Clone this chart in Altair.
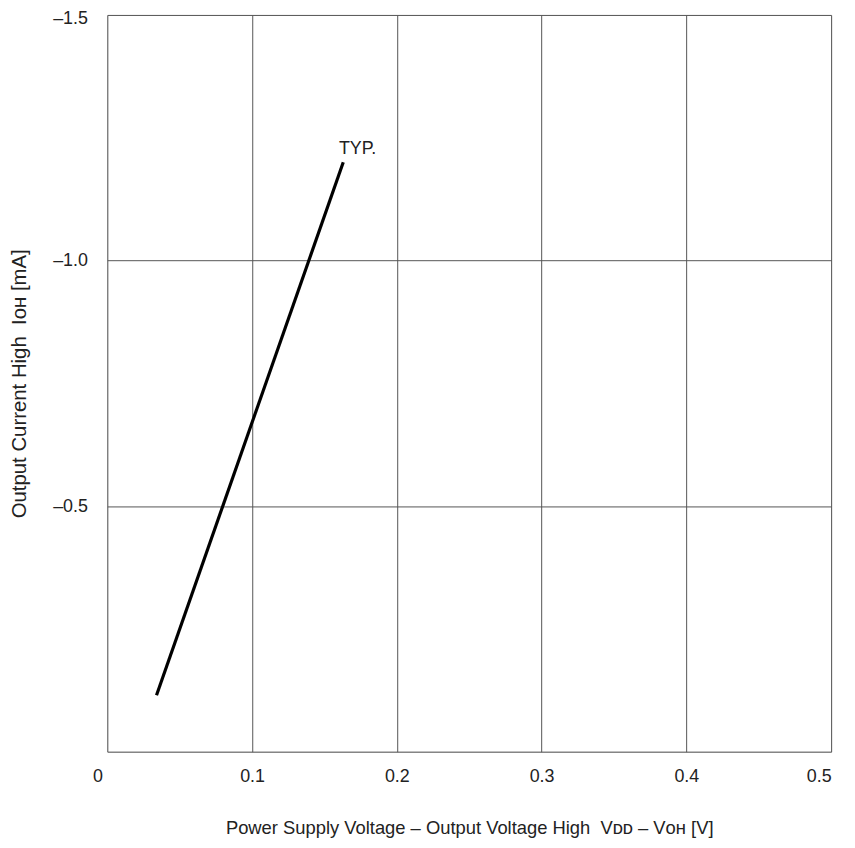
import altair as alt
import pandas as pd

# data
vdd_minus_voh = [0.034, 0.163]
ioh = [-0.115, -1.2]
x_ticks = [0, 0.1, 0.2, 0.3, 0.4, 0.5]
y_ticks = [-1.5, -1.0, -0.5, 0]
label_text = ["TYP."]
label_x = [0.160]
label_y = [-1.227]

df = pd.DataFrame({"x": vdd_minus_voh, "y": ioh})
lab = pd.DataFrame({"x": label_x, "y": label_y, "t": label_text})

FONT = "Liberation Sans"
TXT = "#222"
xscale = alt.Scale(domain=[0, 0.5], nice=False, zero=False)
yscale = alt.Scale(domain=[-1.5, 0], reverse=True, nice=False, zero=False)

xaxis = alt.Axis(
    values=x_ticks,
    labelExpr="datum.value == 0 ? '0' : format(datum.value, '.1f')",
    grid=True, gridColor="#555", gridWidth=1,
    domain=False, ticks=False,
    labelPadding=16, labelFontSize=18, labelFont=FONT, labelColor=TXT,
    labelOffset={"condition": {"test": "datum.value == 0", "value": -15}, "value": 0},
    title="Power Supply Voltage – Output Voltage High\u00a0\u00a0Vᴅᴅ – Vᴏʜ [V]",
    titleFont=FONT, titleFontSize=18.5, titleFontWeight="normal", titleColor=TXT,
    titlePadding=33,
)
yaxis = alt.Axis(
    values=y_ticks,
    labelExpr="datum.value == 0 ? '' : replace(format(datum.value, '.1f'), '−', '–')",
    grid=True, gridColor="#555", gridWidth=1,
    domain=False, ticks=False,
    labelPadding=20, labelFontSize=18, labelFont=FONT, labelColor=TXT,
    labelOffset={"condition": {"test": "datum.value == -1.5", "value": 4}, "value": 0},
    title="Output Current High\u00a0\u00a0Iᴏʜ [mA]",
    titleFont=FONT, titleFontSize=20.5, titleFontWeight="normal", titleColor=TXT,
    titlePadding=23,
)

line = alt.Chart(df).mark_line(color="black", strokeWidth=3.2).encode(
    x=alt.X("x:Q", scale=xscale, axis=xaxis),
    y=alt.Y("y:Q", scale=yscale, axis=yaxis),
)
text = alt.Chart(lab).mark_text(
    align="left", baseline="middle", font=FONT, fontSize=18, color=TXT
).encode(
    x=alt.X("x:Q", scale=xscale),
    y=alt.Y("y:Q", scale=yscale),
    text="t:N",
)

chart = (line + text).properties(
    width=729, height=742,
    padding={"left": 100, "top": 4, "right": 16, "bottom": 94},
    autosize=alt.AutoSizeParams(type="none"),
).configure_view(stroke="black", strokeWidth=2).configure(background="white")

chart.save("out.html", embed_options={"renderer": "svg", "actions": False})
